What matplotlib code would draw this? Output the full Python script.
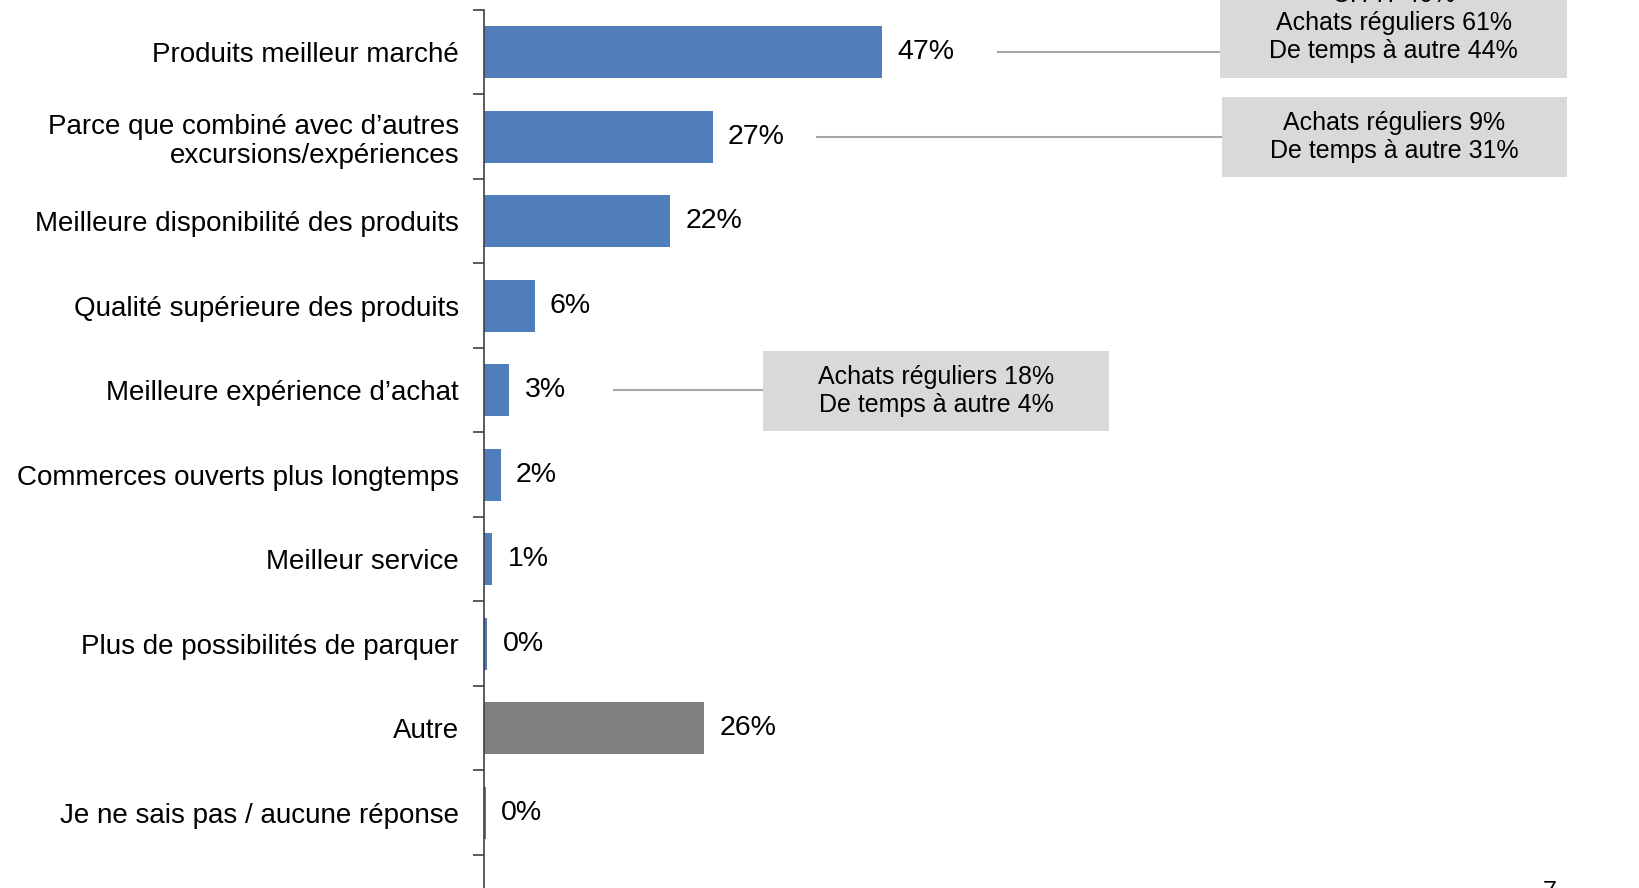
import matplotlib
matplotlib.use("Agg")
import matplotlib.pyplot as plt
from matplotlib.patches import Rectangle
from matplotlib.ticker import FixedLocator

plt.rcParams['font.family'] = ['Liberation Sans', 'DejaVu Sans']

categories = [
    "Produits meilleur marché",
    "Parce que combiné avec d’autres\nexcursions/expériences",
    "Meilleure disponibilité des produits",
    "Qualité supérieure des produits",
    "Meilleure expérience d’achat",
    "Commerces ouverts plus longtemps",
    "Meilleur service",
    "Plus de possibilités de parquer",
    "Autre",
    "Je ne sais pas / aucune réponse",
]
values = [47, 27, 22, 6, 3, 2, 1, 0.4, 26, 0.2]
value_labels = ["47%", "27%", "22%", "6%", "3%", "2%", "1%", "0%", "26%", "0%"]
bar_colors = ["#4F7EBB"] * 8 + ["#7F7F7F", "#4F7EBB"]

notes_idx = [0, 1, 4]
notes_text = [
    "CH-IT 40%\nAchats réguliers 61%\nDe temps à autre 44%",
    "Achats réguliers 9%\nDe temps à autre 31%",
    "Achats réguliers 18%\nDe temps à autre 4%",
]

W, H = 1639, 888
fig = plt.figure(figsize=(W / 100, H / 100), dpi=100)
px = 8.47          # pixels per percent
py = 84.5          # pixels per category
x0_px, top_px = 484, 10
ax = fig.add_axes([x0_px / W, 0, 1 - x0_px / W, 1 - top_px / H])
ylim_bottom = -0.5 + (H - top_px) / py
ax.set_xlim(0, (W - x0_px) / px)
ax.set_ylim(ylim_bottom, -0.5)

ypos = list(range(len(categories)))
ax.barh(ypos, values, height=0.62, color=bar_colors, edgecolor='none')

for y, v, lab in zip(ypos, values, value_labels):
    ax.text(v + 15 / px, y, lab, va='center', ha='left', fontsize=20.5, color='black')

for sp in ['top', 'right', 'bottom']:
    ax.spines[sp].set_visible(False)
ax.spines['left'].set_color('#404040')
ax.spines['left'].set_linewidth(1.2)
ax.set_xticks([])
ax.set_yticks(ypos)
ax.set_yticklabels(categories, fontsize=20)
ax.tick_params(axis='y', which='major', length=0, pad=18)
ax.yaxis.set_minor_locator(FixedLocator([i - 0.5 for i in range(len(categories) + 1)]))
ax.tick_params(axis='y', which='minor', length=8, width=1.2, color='#404040')
for t in ax.get_yticklabels():
    t.set_linespacing(1.15)

def dx(p):
    return (p - x0_px) / px

def dy(p):
    return (p - top_px) / py - 0.5

boxes = [
    (dx(1220), dx(1567), dy(-34), dy(78), dx(998), dy(23)),
    (dx(1222), dx(1567), dy(97), dy(177), dx(817), dy(137)),
    (dx(763), dx(1109), dy(351), dy(431), dx(614), dy(391)),
]
for idx, txt, (bx0, bx1, by0, by1, lx, ty) in zip(notes_idx, notes_text, boxes):
    ax.plot([lx, bx0], [idx, idx], color='#A6A6A6', lw=1.5, clip_on=False)
    ax.add_patch(Rectangle((bx0, by0), bx1 - bx0, by1 - by0, facecolor='#D9D9D9',
                           edgecolor='none', clip_on=False, zorder=3))
    ax.text((bx0 + bx1) / 2, ty, txt, ha='center', va='center',
            fontsize=18, multialignment='center', linespacing=1.2, zorder=4, clip_on=False)

fig.text(1550 / W, 1 - 880 / H, "7", ha='center', va='top', fontsize=18)

fig.savefig("out.png", dpi=100)
